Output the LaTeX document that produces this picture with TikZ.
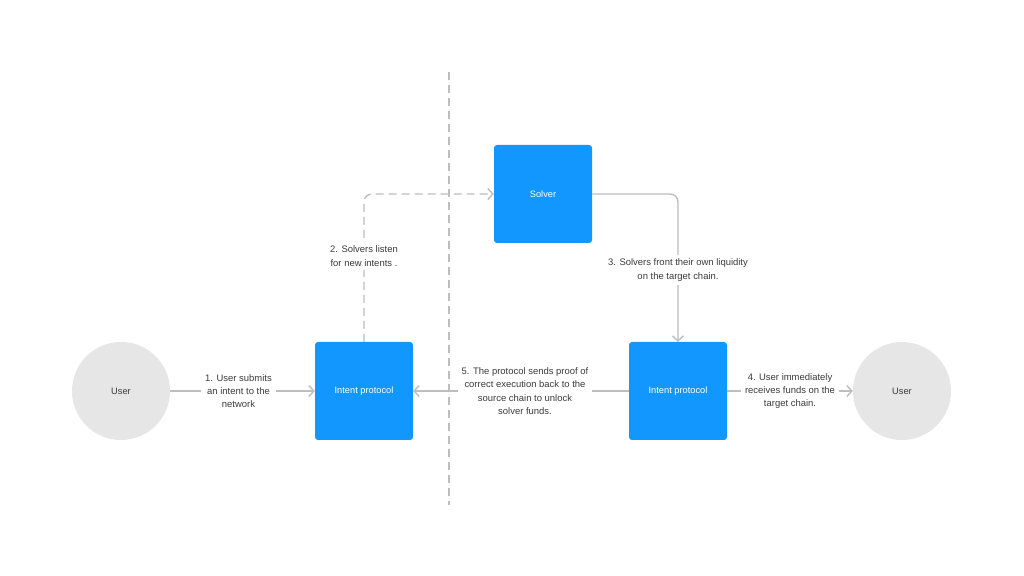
\documentclass[tikz,border=0pt]{standalone}
\usepackage{fontspec}
\setmainfont{Liberation Sans}
\usetikzlibrary{positioning, arrows.meta}

\definecolor{boxblue}{HTML}{1296FF}
\definecolor{usergray}{HTML}{E6E6E6}
\definecolor{linegray}{HTML}{BDBDBD}
\definecolor{textgray}{HTML}{3C3C3C}

\tikzset{
    proto/.style={rectangle, rounded corners=3bp, fill=boxblue, text=white,
        minimum width=98bp, minimum height=98bp, inner sep=0pt},
    usr/.style={circle, fill=usergray, text=textgray, minimum size=98bp, inner sep=0pt},
    flow/.style={draw=linegray, line width=1.4bp, -{Straight Barb[length=5bp,width=11bp]}},
    divider/.style={draw=linegray, line width=1.4bp, dash pattern=on 8bp off 5bp},
    lbl/.style={fill=white, text=textgray, align=center, inner sep=4bp,
        font=\fontsize{9.5}{13.3}\selectfont}
}

\begin{document}
\begin{tikzpicture}[x=1bp, y=1bp, font=\fontsize{9.3}{13.3}\selectfont]
        \useasboundingbox[fill=white] (0,0) rectangle (1024,576);

        \coordinate (divtop) at (449,504);
        \coordinate (divbot) at (449,71);
        \draw[divider] (divtop) -- (divbot);

        \node[usr] (user1) at (121,185) {User};
        \node[proto] (ip1) at (364,185) {Intent protocol};
        \node[proto] (solver) at (543,382) {Solver};
        \node[proto] (ip2) at (678,185) {Intent protocol};
        \node[usr] (user2) at (902,185) {User};

        % main flow
        \draw[flow] (user1) -- node[lbl, xshift=-4bp] {1. User submits\\an intent to the\\network} (ip1);
        \draw[flow, dash pattern=on 8bp off 5bp, rounded corners=8bp] (ip1.north) |- node[lbl, pos=0.29] {2. Solvers listen\\for new intents .} (solver.west);
        \draw[flow, rounded corners=8bp] (solver.east) -| node[lbl, pos=0.757] {3. Solvers front their own liquidity\\on the target chain.} (ip2.north);
        \draw[flow] (ip2) -- node[lbl] {4. User immediately\\receives funds on the\\target chain.} (user2);
        \draw[flow] (ip2) -- node[lbl, xshift=4bp] {5. The protocol sends proof of\\correct execution back to the\\source chain to unlock\\solver funds.} (ip1);
    \end{tikzpicture}
\end{document}
